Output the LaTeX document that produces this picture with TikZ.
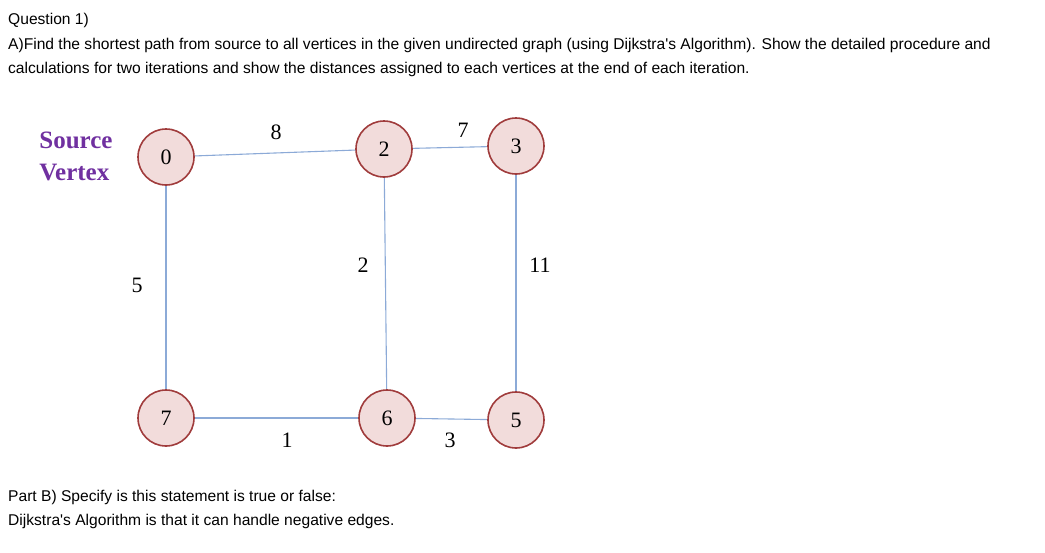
\documentclass[tikz,border=0pt]{standalone}
\usepackage{fontspec}
\usetikzlibrary{backgrounds}
\setmainfont{Liberation Sans}
\newfontfamily\tnr{Liberation Serif}
\definecolor{edgec}{RGB}{140,170,215}
\definecolor{vbord}{RGB}{160,60,60}
\definecolor{vfill}{RGB}{242,220,219}
\definecolor{srcc}{RGB}{112,48,160}
\begin{document}
\begin{tikzpicture}[x=1pt,y=-1pt,
  vtx/.style={circle,draw=vbord,line width=1.6pt,fill=vfill,minimum size=56pt,inner sep=0pt,font=\tnr\fontsize{22}{22}\selectfont},
  edge/.style={draw=edgec,line width=1.1pt},
  wt/.style={font=\tnr\fontsize{22}{22}\selectfont},
  txt/.style={anchor=west,inner sep=0pt,font=\fontsize{15.6}{18}\selectfont}]
\useasboundingbox (0,0) rectangle (1045,552);
\node[txt] (q) at (8,20) {Question 1)};
\node[txt] (a1) at (8,45) {A)Find the shortest path from source to all vertices in the given undirected graph (using Dijkstra\textquotesingle s Algorithm). Show the detailed procedure and};
\node[txt] (a2) at (8,69) {calculations for two iterations and show the distances assigned to each vertices at the end of each iteration.};
\node[txt] (b1) at (8,497) {Part B) Specify is this statement is true or false:};
\node[txt] (b2) at (8,521) {Dijkstra\textquotesingle s Algorithm is that it can handle negative edges.};
\node[align=left,text=srcc,font=\tnr\bfseries\fontsize{25}{32}\selectfont] (src) at (76,156) {Source\\Vertex};
\node[vtx] (n0) at (166,157) {0};
\node[vtx] (n2) at (384,149) {2};
\node[vtx] (n3) at (516,146) {3};
\node[vtx] (n7) at (166,418) {7};
\node[vtx] (n6) at (387,418) {6};
\node[vtx] (n5) at (516,420) {5};
\begin{scope}[on background layer]
\draw[edge] (n0.center) -- (n2.center);
\draw[edge] (n2.center) -- (n3.center);
\draw[edge] (n0.center) -- (n7.center);
\draw[edge] (n2.center) -- (n6.center);
\draw[edge] (n3.center) -- (n5.center);
\draw[edge] (n7.center) -- (n6.center);
\draw[edge] (n6.center) -- (n5.center);
\end{scope}
\node[wt] (w1) at (276,132) {8};
\node[wt] (w2) at (463,130) {7};
\node[wt] (w3) at (137,285) {5};
\node[wt] (w4) at (363,265) {2};
\node[wt] (w5) at (540,265) {11};
\node[wt] (w6) at (287,440) {1};
\node[wt] (w7) at (450,440) {3};
\end{tikzpicture}
\end{document}
